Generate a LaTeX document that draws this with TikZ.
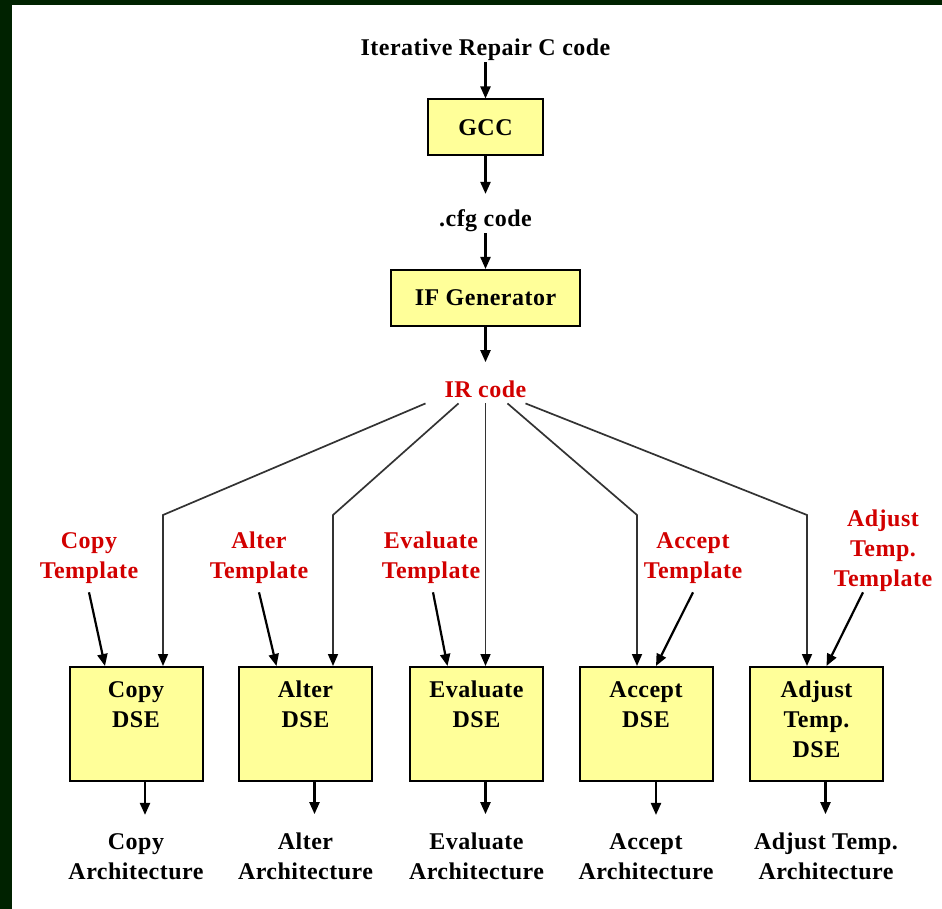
\documentclass[tikz,border=0pt]{standalone}
\usepackage{fontspec}
\setmainfont{Liberation Serif}[LetterSpace=2.0]
\usetikzlibrary{arrows.meta}
\definecolor{frame}{RGB}{0,34,0}
\definecolor{boxyellow}{RGB}{255,255,153}
\definecolor{labelred}{RGB}{210,0,0}
\begin{document}
\begin{tikzpicture}[x=1pt,y=-1pt,
  txt/.style={font=\fontsize{24}{30}\selectfont\bfseries, align=center, inner sep=1pt, anchor=base},
  redtxt/.style={txt, text=labelred},
  box/.style={draw=black, line width=2pt, fill=boxyellow, font=\fontsize{24}{30}\selectfont\bfseries, inner sep=1pt},
  dse/.style={box, minimum width=133pt, minimum height=114pt},
  arr/.style={draw=black, line width=2.2pt, -{Triangle[length=12pt,width=10pt]}},
  conn/.style={draw=black!80, line width=1.7pt, -{Triangle[length=12pt,width=10pt,color=black]}}
]
\useasboundingbox (0,0) rectangle (942,909);
\fill[frame] (0,0) rectangle (942,909);
\fill[white] (12,5) rectangle (942,909);

% top chain
\node[txt] (src) at (485.5,56) {Iterative Repair C code};
\node[box, minimum width=115pt, minimum height=56pt] (gcc) at (485.5,127.5) {GCC};
\node[txt] (cfg) at (485.5,227) {.cfg code};
\node[box, minimum width=189pt, minimum height=56pt] (ifg) at (485.5,298) {IF Generator};
\node[redtxt] (ir) at (485.5,397) {IR code};

\draw[arr] (src) -- (gcc);
\draw[arr, shorten >=15pt] (gcc) -- (cfg);
\draw[arr] (cfg) -- (ifg);
\draw[arr, shorten >=17pt] (ifg) -- (ir);

% DSE boxes
\node[dse] (copy) at (136,724) {};
\node[dse] (alter) at (305.5,724) {};
\node[dse] (eval) at (476.5,724) {};
\node[dse] (accept) at (646,724) {};
\node[dse] (adjust) at (816.5,724) {};

% (base anchor = baseline of last line)
\node[txt] (copyt) at (136,727) {Copy\\DSE};
\node[txt] (altert) at (305.5,727) {Alter\\DSE};
\node[txt] (evalt) at (476.5,727) {Evaluate\\DSE};
\node[txt] (acceptt) at (646,727) {Accept\\DSE};
\node[txt] (adjustt) at (816.5,757) {Adjust\\Temp.\\DSE};

% template labels
\node[redtxt] (copytpl) at (89,578) {Copy\\Template};
\node[redtxt] (altertpl) at (259,578) {Alter\\Template};
\node[redtxt] (evaltpl) at (431,578) {Evaluate\\Template};
\node[redtxt] (accepttpl) at (693,578) {Accept\\Template};
\node[redtxt] (adjusttpl) at (883,586) {Adjust\\Temp.\\Template};

% outputs
\node[txt] (copyo) at (136,879) {Copy\\Architecture};
\node[txt] (altero) at (305.5,879) {Alter\\Architecture};
\node[txt] (evalo) at (476.5,879) {Evaluate\\Architecture};
\node[txt] (accepto) at (646,879) {Accept\\Architecture};
\node[txt] (adjusto) at (826,879) {Adjust Temp.\\Architecture};

% IR connectors
\coordinate (b1) at (163,515);
\coordinate (b2) at (333,515);
\coordinate (b4) at (637,515);
\coordinate (b5) at (807,515);
\draw[conn] ([xshift=-60pt,yshift=-5pt]ir.south) -- (b1) -- (b1 |- copy.north);
\draw[conn] ([xshift=-27pt,yshift=-5pt]ir.south) -- (b2) -- (b2 |- alter.north);
\draw[conn] ([yshift=-5pt]ir.south) -- ([xshift=9pt]eval.north);
\draw[conn] ([xshift=22pt,yshift=-5pt]ir.south) -- (b4) -- (b4 |- accept.north);
\draw[conn] ([xshift=40pt,yshift=-5pt]ir.south) -- (b5) -- (b5 |- adjust.north);

% template arrows
\draw[arr] ([yshift=-8pt]copytpl.south) -- ([xshift=-31pt]copy.north);
\draw[arr] ([yshift=-8pt]altertpl.south) -- ([xshift=-29pt]alter.north);
\draw[arr] ([xshift=2pt,yshift=-8pt]evaltpl.south) -- ([xshift=-29pt]eval.north);
\draw[arr] ([yshift=-8pt]accepttpl.south) -- ([xshift=10pt]accept.north);
\draw[arr] ([xshift=-20pt,yshift=0pt]adjusttpl.south) -- ([xshift=10pt]adjust.north);

% output arrows
\draw[arr, shorten >=17pt] ([xshift=9pt]copy.south) -- ([xshift=9pt]copy.south |- copyo.north);
\draw[arr, shorten >=17pt] ([xshift=9pt]alter.south) -- ([xshift=9pt]alter.south |- altero.north);
\draw[arr, shorten >=17pt] ([xshift=9pt]eval.south) -- ([xshift=9pt]eval.south |- evalo.north);
\draw[arr, shorten >=17pt] ([xshift=10pt]accept.south) -- ([xshift=10pt]accept.south |- accepto.north);
\draw[arr, shorten >=17pt] ([xshift=9pt]adjust.south) -- ([xshift=9pt]adjust.south |- adjusto.north);
\end{tikzpicture}
\end{document}
